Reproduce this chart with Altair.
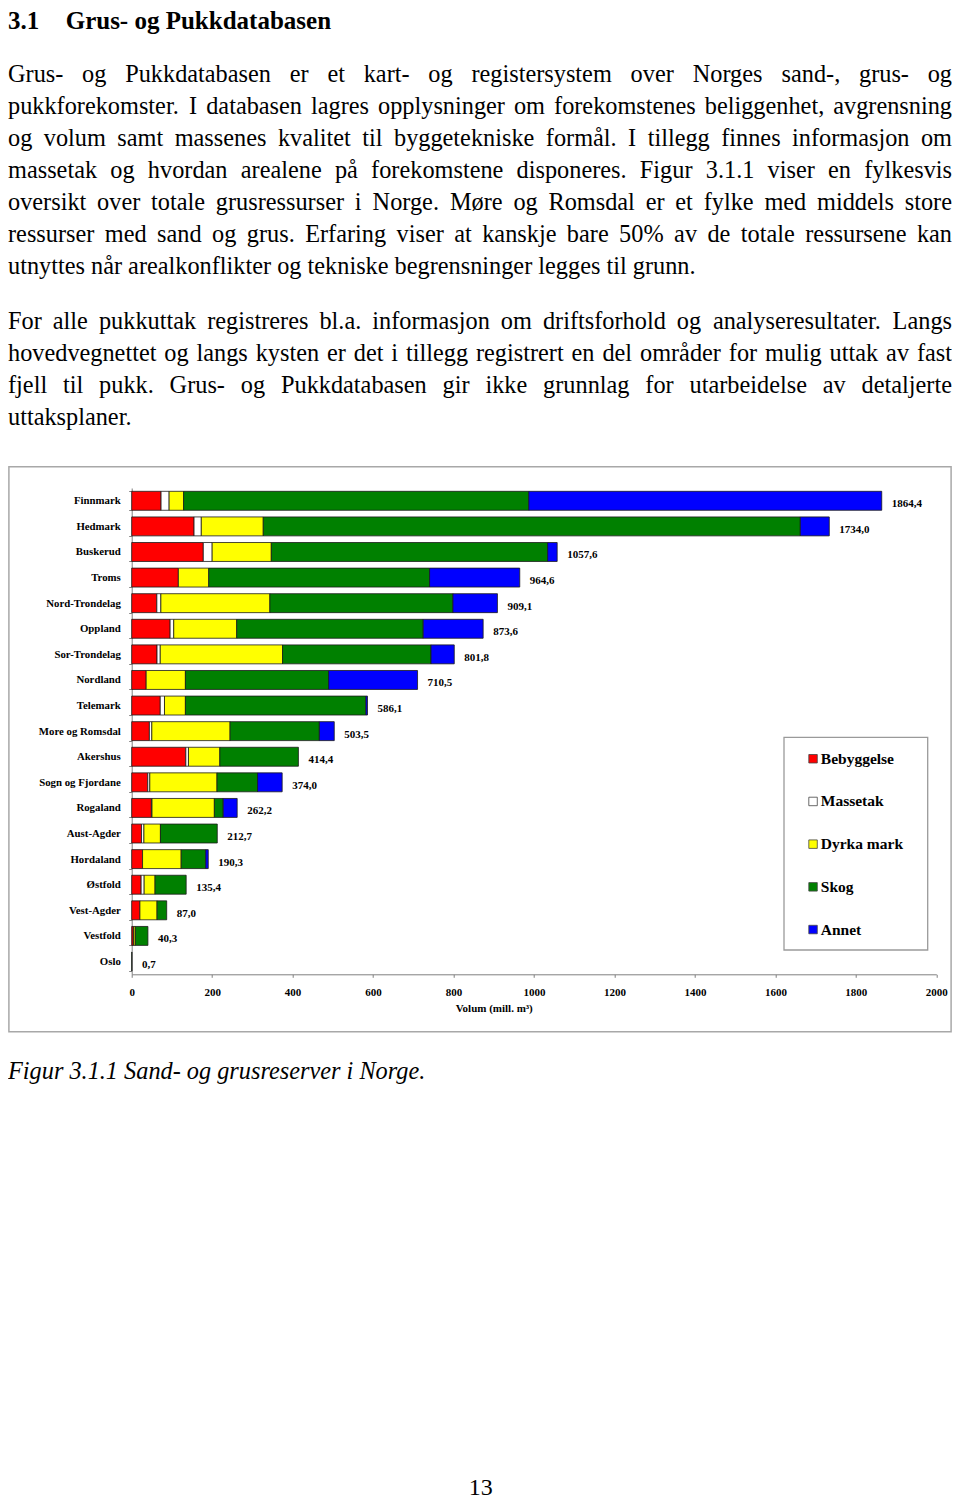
import altair as alt
import pandas as pd

# ---------------- data ----------------
counties = ["Finnmark", "Hedmark", "Buskerud", "Troms", "Nord-Trondelag", "Oppland",
            "Sor-Trondelag", "Nordland", "Telemark", "More og Romsdal", "Akershus",
            "Sogn og Fjordane", "Rogaland", "Aust-Agder", "Hordaland", "Østfold",
            "Vest-Agder", "Vestfold", "Oslo"]
totals = [1864.4, 1734.0, 1057.6, 964.6, 909.1, 873.6, 801.8, 710.5, 586.1, 503.5,
          414.4, 374.0, 262.2, 212.7, 190.3, 135.4, 87.0, 40.3, 0.7]
series = ["Bebyggelse", "Massetak", "Dyrka mark", "Skog", "Annet"]
bebyggelse = [73, 155, 178, 116, 62.5, 95.5, 63, 36, 71, 44, 134.6, 40, 49, 24.4, 27, 23.5, 20.4, 4, 0]
massetak = [20, 18, 22, 0, 10, 9, 8, 0, 10.5, 6, 6.5, 5, 1.5, 6, 0, 7.5, 0, 1, 0]
dyrka_mark = [36, 154, 147, 75.5, 271, 156.5, 304, 97.5, 52, 194.5, 78, 167, 155, 41, 96, 27, 42.6, 4, 0]
skog = [858, 1335, 687, 549, 455, 463.6, 369, 356, 448.6, 222, 195.3, 101, 22, 141.3, 61, 77.4, 24, 31.3, 0.7]
annet = [877.4, 72, 23.6, 224.1, 110.6, 149, 57.8, 221, 4, 37, 0, 61, 34.7, 0, 6.3, 0, 0, 0, 0]
colors = ["#FF0000", "#FFFFFF", "#FFFF00", "#008000", "#0000FF"]
x_ticks = [0, 200, 400, 600, 800, 1000, 1200, 1400, 1600, 1800, 2000]
x_title = "Volum (mill. m³)"

heading_num = "3.1"
heading_text = "Grus- og Pukkdatabasen"
para1 = [
    "Grus- og Pukkdatabasen er et kart- og registersystem over Norges sand-, grus- og",
    "pukkforekomster. I databasen lagres opplysninger om forekomstenes beliggenhet, avgrensning",
    "og volum samt massenes kvalitet til byggetekniske formål. I tillegg finnes informasjon om",
    "massetak og hvordan arealene på forekomstene disponeres. Figur 3.1.1 viser en fylkesvis",
    "oversikt over totale grusressurser i Norge. Møre og Romsdal er et fylke med middels store",
    "ressurser med sand og grus. Erfaring viser at kanskje bare 50% av de totale ressursene kan",
    "utnyttes når arealkonflikter og tekniske begrensninger legges til grunn.",
]
para2 = [
    "For alle pukkuttak registreres bl.a. informasjon om driftsforhold og analyseresultater. Langs",
    "hovedvegnettet og langs kysten er det i tillegg registrert en del områder for mulig uttak av fast",
    "fjell til pukk. Grus- og Pukkdatabasen gir ikke grunnlag for utarbeidelse av detaljerte",
    "uttaksplaner.",
]
caption = "Figur 3.1.1 Sand- og grusreserver i Norge."
page_no = "13"

# ---------------- layout ----------------
FONT = "Liberation Serif"
PAGE_W, PAGE_H = 944, 1493
L, T = 123.7, 480.0
PW, PH = 804.6, 486.3
PAD = {"left": L, "top": T, "right": PAGE_W - L - PW, "bottom": PAGE_H - T - PH}
BODY = 24.3
LINE = 32

# Times metrics (per 1000 em)
W = {' ': 250, '%': 833, '(': 333, ')': 333, ',': 250, '-': 333, '.': 250, ':': 278,
     'A': 722, 'B': 667, 'C': 667, 'D': 722, 'E': 611, 'F': 556, 'G': 722, 'H': 722,
     'I': 333, 'J': 389, 'K': 722, 'L': 611, 'M': 889, 'N': 722, 'O': 722, 'P': 556,
     'Q': 722, 'R': 667, 'S': 556, 'T': 611, 'U': 722, 'V': 722, 'W': 944, 'X': 722,
     'Y': 722, 'Z': 611, 'a': 444, 'b': 500, 'c': 444, 'd': 500, 'e': 444, 'f': 333,
     'g': 500, 'h': 500, 'i': 278, 'j': 278, 'k': 500, 'l': 278, 'm': 778, 'n': 500,
     'o': 500, 'p': 500, 'q': 500, 'r': 333, 's': 389, 't': 278, 'u': 500, 'v': 500,
     'w': 722, 'x': 500, 'y': 500, 'z': 444, 'å': 444, 'ø': 500, 'æ': 667, 'Ø': 722}


def tw(s, size):
    return sum(W.get(c, 500) for c in s) * size / 1000.0


rows = []


def add_para(lines, first_base):
    for i, line in enumerate(lines):
        y = first_base + i * LINE - T
        if i == len(lines) - 1:
            rows.append(dict(t=line, x=0 - L, y=y, a="left"))
            continue
        words = line.split(" ")
        ws = [tw(w, BODY) for w in words]
        gap = (PAGE_W - sum(ws)) / (len(words) - 1)
        pos = 0.0
        for j, (w, wd) in enumerate(zip(words, ws)):
            if j == 0:
                rows.append(dict(t=w, x=0 - L, y=y, a="left"))
            elif j == len(words) - 1:
                rows.append(dict(t=w, x=PAGE_W - L, y=y, a="right"))
            else:
                rows.append(dict(t=w, x=pos + wd / 2 - L, y=y, a="center"))
            pos += wd + gap


add_para(para1, 74.3)
add_para(para2, 321.3)
body_df = pd.DataFrame(rows)

ident = alt.Scale(domain=[0, 100], range=[0, 100])


def text_layer(df, baseline="alphabetic", **mk):
    return alt.Chart(df).mark_text(font=FONT, color="black", baseline=baseline, **mk).encode(
        x=alt.X("x:Q", scale=ident, axis=None),
        y=alt.Y("y:Q", scale=ident, axis=None),
        text="t:N",
    )


body_layers = []
for a in ["left", "center", "right"]:
    sub = body_df[body_df["a"] == a]
    body_layers.append(text_layer(sub, align=a, fontSize=BODY))

head_df = pd.DataFrame([dict(t=heading_num, x=0 - L, y=0.5 - T),
                        dict(t=heading_text, x=57.7 - L, y=0.5 - T)])
head_layer = text_layer(head_df, baseline="top", align="left", fontSize=25, fontWeight="bold")

cap_df = pd.DataFrame([dict(t=caption, x=0 - L, y=1071.0 - T)])
cap_layer = text_layer(cap_df, align="left", fontSize=BODY, fontStyle="italic")

pg_df = pd.DataFrame([dict(t=page_no, x=472.7 - L, y=1492.0 - T)])
pg_layer = text_layer(pg_df, baseline="bottom", align="center", fontSize=24)

# ---------------- bar chart ----------------
recs = []
for i, c in enumerate(counties):
    for k, (s, arr) in enumerate(zip(series, [bebyggelse, massetak, dyrka_mark, skog, annet])):
        if arr[i] > 0:
            recs.append(dict(county=c, series=s, value=arr[i], order=k))
bar_df = pd.DataFrame(recs)
tot_df = pd.DataFrame(dict(county=counties, total=totals,
                           label=[f"{v:.1f}".replace(".", ",") for v in totals]))

yscale = alt.Scale(domain=counties, paddingInner=0.26, paddingOuter=0.13)
xscale = alt.Scale(domain=[0, 2000], nice=False, zero=True)

bars = alt.Chart(bar_df).mark_bar(stroke="#1a1a1a", strokeWidth=0.8).encode(
    x=alt.X("value:Q", stack="zero", scale=xscale,
            axis=alt.Axis(values=x_ticks, format="d", title=x_title, grid=False,
                          labelFont=FONT, labelFontSize=11, labelFontWeight="bold",
                          labelColor="black", labelPadding=9.0, tickSize=3,
                          tickColor="#808080", domainColor="#808080", labelFlush=False,
                          titleFont=FONT, titleFontSize=11, titleFontWeight="bold",
                          titleColor="black", titleX=362, titleY=34,
                          titleBaseline="middle", titleAlign="center")),
    y=alt.Y("county:N", sort=counties, scale=yscale,
            axis=alt.Axis(title=None, labelFont=FONT, labelFontSize=10.8,
                          labelFontWeight="bold", labelColor="black", tickBand="extent",
                          tickSize=3, labelPadding=8.4, tickColor="#808080",
                          domainColor="#808080", grid=False)),
    color=alt.Color("series:N", scale=alt.Scale(domain=series, range=colors),
                    legend=alt.Legend(title=None, orient="none", legendX=673.6, legendY=263,
                                      symbolType="square", symbolSize=72,
                                      symbolStrokeColor="#444444", symbolStrokeWidth=0.8,
                                      labelFont=FONT, labelFontSize=15.5,
                                      labelFontWeight="bold", labelColor="black",
                                      labelOffset=0, rowPadding=25.7, padding=0,
                                      symbolOffset=0)),
    order=alt.Order("order:Q"),
)

labels = alt.Chart(tot_df).mark_text(font=FONT, fontSize=11, fontWeight="bold", color="black",
                                     align="left", baseline="middle", dx=10, dy=3.5).encode(
    x=alt.X("total:Q", scale=xscale, axis=None),
    y=alt.Y("county:N", sort=counties, scale=yscale, axis=None),
    text="label:N",
)

one = pd.DataFrame({"k": [0]})
frame = alt.Chart(one).mark_rect(fillOpacity=0, stroke="#a8a8a8", strokeWidth=1.5).encode(
    x=alt.value(0.9 - L), x2=alt.value(943.1 - L),
    y=alt.value(458.7 - T), y2=alt.value(1023.7 - T),
)
legend_box = alt.Chart(one).mark_rect(fillOpacity=0, stroke="#9a9a9a", strokeWidth=1.3).encode(
    x=alt.value(652.3), x2=alt.value(796.0),
    y=alt.value(249.3), y2=alt.value(462.0),
)

chart = alt.layer(
    frame, legend_box, bars, labels, head_layer, *body_layers, cap_layer, pg_layer
).resolve_scale(x="independent", y="independent").properties(
    width=PW, height=PH, padding=PAD, autosize=alt.AutoSizeParams(type="none"),
    background="white",
).configure_view(stroke=None)

chart.save("out.html", embed_options={"renderer": "svg", "actions": False})
